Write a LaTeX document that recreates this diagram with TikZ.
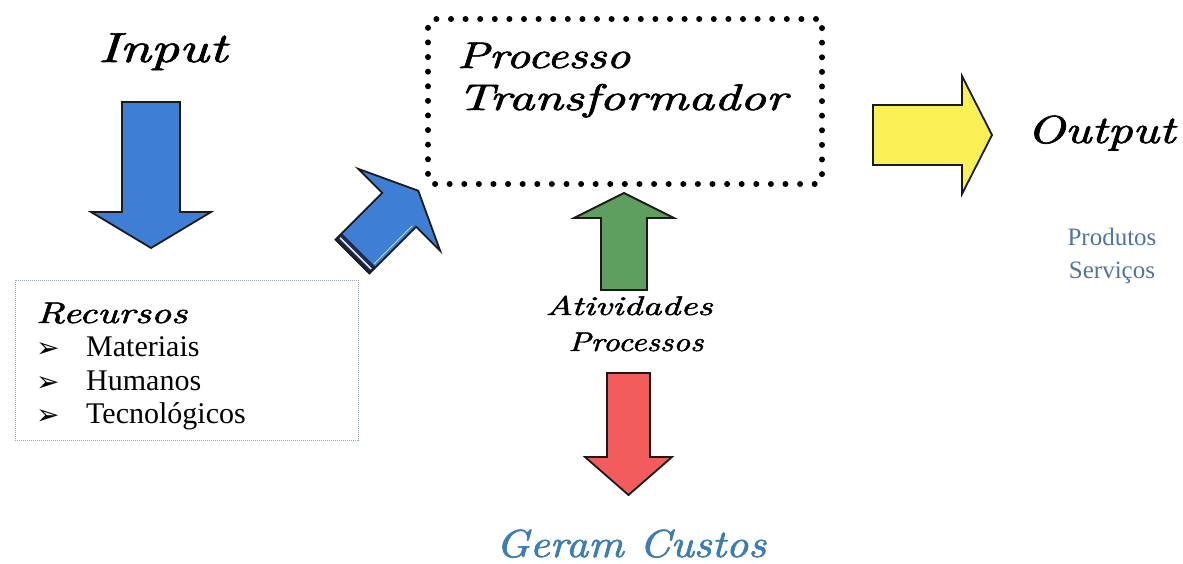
\documentclass[tikz,border=0pt]{standalone}
\usepackage{fontspec}
\usepackage{graphicx}
\newfontfamily\timesfont{Liberation Serif}
\newfontfamily\dingfont{DejaVu Sans Bold}
\newfontfamily\handfont{lmroman10-italic.otf}[FakeBold=1.6]

\definecolor{inblue}{HTML}{3E7FD5}
\definecolor{actgreen}{HTML}{5E9E5E}
\definecolor{costred}{HTML}{F25C5C}
\definecolor{outyellow}{HTML}{F8F054}
\definecolor{outline}{HTML}{1A1A1A}
\definecolor{navyband}{HTML}{1C2A4A}
\definecolor{costblue}{HTML}{3C7DB5}
\definecolor{prodblue}{HTML}{4F74A8}
\definecolor{framegray}{HTML}{9AA6C4}

% handwritten-style label: target width, font size, text
\newcommand{\hw}[3]{\resizebox{#1pt}{\height}{\fontsize{#2}{#2}\selectfont\handfont #3}}
% block arrow pointing along local +x: style, shaft length, shaft half-width, head half-width, head length
\newcommand{\blockarrow}[5]{%
  \path[#1] (0,-#3) -- (#2,-#3) -- (#2,-#4) -- (#2+#5,0) -- (#2,#4) -- (#2,#3) -- (0,#3) -- cycle;}

\tikzset{
  arrowline/.style={draw=outline, line width=1.8pt, line join=miter},
  label/.style={inner sep=0pt},
  itemtext/.style={inner sep=0pt, anchor=base west, font=\timesfont\fontsize{30}{30}\selectfont},
  bullet/.style={inner sep=0pt, anchor=base west, font=\dingfont\fontsize{28}{28}\selectfont},
}

\begin{document}
\begin{tikzpicture}[x=1pt,y=-1pt]
\useasboundingbox (0,0) rectangle (1183,564);
\fill[white] (0,0) rectangle (1183,564);

% Input
\node[label, anchor=base west] (input) at (98,62) {\hw{129}{42}{Input}};
\begin{scope}[shift={(151,102)}, rotate=-90]
  \blockarrow{fill=inblue, arrowline}{110}{29}{60}{36}
\end{scope}

% resources box
\node[draw=framegray, line width=1pt, dash pattern=on 1pt off 1pt,
      minimum width=343pt, minimum height=160pt, inner sep=0pt] (res) at (186.5,360) {};
\node[label, anchor=base west] (rtitle) at (36,323) {\hw{151}{30}{Recursos}};
\node[bullet] (b1) at (36,357) {➢};
\node[bullet] (b2) at (36,391) {➢};
\node[bullet] (b3) at (36,424) {➢};
\node[itemtext] (i1) at (86,356) {Materiais};
\node[itemtext] (i2) at (86,390) {Humanos};
\node[itemtext] (i3) at (86,423) {Tecnológicos};

% diagonal arrow into the process
\begin{scope}[shift={(352.5,256.5)}, rotate=45]
  \blockarrow{fill=inblue}{66}{24}{58}{27}
  \fill[navyband] (0,-24) rectangle (9,24);
  \draw[white!85!inblue, line width=1.6pt] (4.5,-22) -- (4.5,22);
  \draw[white!70!inblue, line width=1pt] (10,20.5) -- (64,20.5);
  \blockarrow{arrowline}{66}{24}{58}{27}
\end{scope}

% transforming process
\node[draw=black, line width=6pt, dash pattern=on 0pt off 14.6pt, line cap=round,
      rounded corners=6pt, minimum width=394pt, minimum height=165pt, inner sep=0pt] (proc) at (625,101.5) {};
\node[label, anchor=base west] (p1) at (457,68) {\hw{173}{37}{Processo}};
\node[label, anchor=base west] (p2) at (457,110) {\hw{330}{37}{Transformador}};

% activities
\begin{scope}[shift={(624,290)}, rotate=90]
  \blockarrow{fill=actgreen, arrowline}{72}{23}{50}{25}
\end{scope}
\node[label, anchor=base] (a1) at (629,315) {\hw{167}{27}{Atividades}};
\node[label, anchor=base] (a2) at (636,351) {\hw{135}{27}{Processos}};
\begin{scope}[shift={(628.5,373)}, rotate=-90]
  \blockarrow{fill=costred, arrowline}{84}{21.5}{43.5}{38}
\end{scope}
\node[label, anchor=base, text=costblue] (costs) at (631,557) {\hw{270}{39}{Geram Custos}};

% output
\begin{scope}[shift={(873,135)}]
  \blockarrow{fill=outyellow, arrowline}{89}{30}{59}{30}
\end{scope}
\node[label, anchor=base west] (output) at (1027,143) {\hw{148}{39}{Output}};
\node[label, anchor=base, text=prodblue, font=\timesfont\fontsize{25}{25}\selectfont] (prod) at (1112,245) {Produtos};
\node[label, anchor=base, text=prodblue, font=\timesfont\fontsize{25}{25}\selectfont] (serv) at (1112,278) {Serviços};
\end{tikzpicture}
\end{document}
